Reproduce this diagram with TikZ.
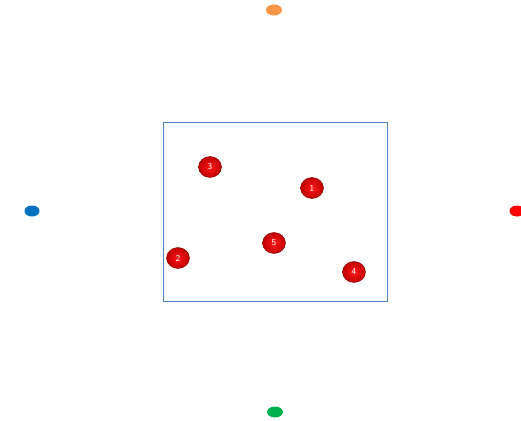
\documentclass[tikz,border=0pt]{standalone}
\usetikzlibrary{shapes.geometric}
\definecolor{boxblue}{HTML}{4F81BD}
\definecolor{dotorange}{HTML}{F79646}
\definecolor{dotblue}{HTML}{0070C0}
\definecolor{dotgreen}{HTML}{00B050}
\begin{document}
\begin{tikzpicture}[x=1pt,y=-1pt,
  dot/.style={ellipse, minimum width=16pt, minimum height=11pt, inner sep=0pt},
  ball/.style={ellipse, minimum width=23pt, minimum height=21pt, inner sep=0pt,
    inner color=red!90!white, outer color=red!75!black, draw=red!50!black, line width=0.4pt,
    text=white, font=\sffamily\fontsize{9}{9}\selectfont}]
\fill[white] (0,0) rectangle (521,420);
\node[draw=boxblue, line width=0.6pt, minimum width=224pt, minimum height=179pt, inner sep=0pt] (box) at (275,211.5) {};
\node[dot, fill=dotorange] (top) at (274,10) {};
\node[dot, fill=dotblue, minimum width=15pt] (left) at (32,211) {};
\node[dot, fill=red, minimum width=15pt] (right) at (517,211) {};
\node[dot, fill=dotgreen] (bottom) at (275,412) {};
\node[ball] (b3) at (210,167) {3};
\node[ball] (b1) at (312,188) {1};
\node[ball] (b2) at (178,258) {2};
\node[ball] (b5) at (274,243) {5};
\node[ball] (b4) at (354,272) {4};
\pgfresetboundingbox
\useasboundingbox (0,0) rectangle (521,420);
\end{tikzpicture}
\end{document}
